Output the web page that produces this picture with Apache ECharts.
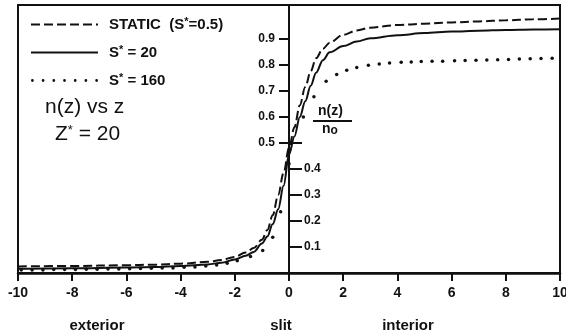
<!DOCTYPE html>
<html>
<head>
<meta charset="utf-8">
<script src="https://cdn.jsdelivr.net/npm/echarts@6/dist/echarts.min.js"></script>
<style>
  html, body { margin: 0; padding: 0; background: #fff; }
  #chart { width: 566px; height: 335px; }
</style>
</head>
<body>
<div id="chart"></div>
<script>
// z positions shared by the two continuous curves
const zValues = [-10, -8, -6, -5, -4, -3, -2.5, -2, -1.6, -1.3, -1, -0.8, -0.6, -0.4, -0.2, 0,
  0.2, 0.4, 0.6, 0.8, 1, 1.25, 1.5, 2, 2.5, 3, 4, 5, 6, 7, 8, 9, 10];
// STATIC (S*=0.5), dashed
const staticValues = [0.025, 0.027, 0.030, 0.032, 0.036, 0.043, 0.050, 0.062, 0.079, 0.096, 0.128, 0.165, 0.222, 0.300, 0.385, 0.480,
  0.560, 0.645, 0.715, 0.775, 0.825, 0.862, 0.885, 0.915, 0.932, 0.943, 0.953, 0.958, 0.963, 0.967, 0.971, 0.975, 0.978];
// S* = 20, solid
const s20Values = [0.016, 0.018, 0.021, 0.023, 0.027, 0.033, 0.039, 0.052, 0.066, 0.081, 0.113, 0.140, 0.188, 0.245, 0.335, 0.455,
  0.525, 0.600, 0.660, 0.720, 0.770, 0.818, 0.848, 0.872, 0.890, 0.902, 0.914, 0.922, 0.928, 0.931, 0.934, 0.936, 0.937];
// S* = 160, dots
const s160Z = [-9.88, -9.48, -9.08, -8.68, -8.28, -7.88, -7.48, -7.08, -6.68, -6.28, -5.88, -5.48, -5.08, -4.68, -4.28,
  -3.87, -3.47, -3.07, -2.67, -2.28, -1.91, -1.42, -0.97, -0.60, -0.31, 0, 0.53, 0.92, 1.37, 1.76, 2.13, 2.50, 2.93,
  3.33, 3.71, 4.14, 4.51, 4.88, 5.28, 5.67, 6.11, 6.50, 6.90, 7.30, 7.70, 8.10, 8.50, 8.90, 9.30, 9.71];
const s160Values = [0.012, 0.012, 0.012, 0.013, 0.013, 0.013, 0.014, 0.014, 0.015, 0.015, 0.016, 0.017, 0.018, 0.019, 0.019,
  0.022, 0.023, 0.027, 0.031, 0.037, 0.047, 0.063, 0.086, 0.137, 0.235, 0.420, 0.600, 0.677, 0.737, 0.763, 0.779, 0.790, 0.798,
  0.803, 0.807, 0.810, 0.811, 0.813, 0.814, 0.814, 0.816, 0.817, 0.818, 0.819, 0.820, 0.821, 0.822, 0.823, 0.824, 0.825];

const seriesNames = ['STATIC  (S*=0.5)', 'S* = 20', 'S* = 160'];
const leftTicks = [0.5, 0.6, 0.7, 0.8, 0.9];
const rightTicks = [0.1, 0.2, 0.3, 0.4, 0.5];
const rightLabels = [0.1, 0.2, 0.3, 0.4];

const zip = (xs, ys) => xs.map((x, i) => [x, ys[i]]);

const FONT = '"Liberation Sans", Arial, sans-serif';
const INK = '#111';

// plot box in pixels; the y axis sits at z = 0, halfway across
const GRID_LEFT = 18, GRID_RIGHT = 6, WIDTH = 566;
const AXIS_SHIFT = -((WIDTH - GRID_LEFT - GRID_RIGHT) / 2);

const chart = echarts.init(document.getElementById('chart'), null, { renderer: 'canvas' });

const yAxisBase = {
  type: 'value',
  min: 0,
  max: 1.03,
  interval: 0.1,
  offset: AXIS_SHIFT,
  splitLine: { show: false },
  axisLine: { show: true, onZero: false, lineStyle: { color: INK, width: 2 } },
  axisLabel: {
    color: INK, fontFamily: FONT, fontWeight: 'bold', fontSize: 12, margin: 14,
    formatter: v => v.toFixed(1)
  }
};

// seven small dots for the S* = 160 legend entry
const dotsIcon = 'path://' + [0, 1, 2, 3, 4, 5, 6]
  .map(x => 'M' + x + ',0.13a0.13,0.13 0 1,0 0.26,0a0.13,0.13 0 1,0 -0.26,0').join('');

const option = {
  animation: false,
  backgroundColor: '#fff',
  grid: {
    show: true, left: GRID_LEFT, right: GRID_RIGHT, top: 5, bottom: 62,
    containLabel: false, outerBoundsMode: 'none',
    borderColor: INK, borderWidth: 2, backgroundColor: 'transparent'
  },
  legend: {
    orient: 'vertical',
    left: 30,
    top: 16,
    padding: 0,
    itemGap: 12,
    itemWidth: 67,
    itemHeight: 14,
    selectedMode: false,
    data: [
      { name: seriesNames[0], itemStyle: { opacity: 0 } },
      { name: seriesNames[1], itemStyle: { opacity: 0 } },
      { name: seriesNames[2], icon: dotsIcon }
    ],
    formatter: name => name.replace('*', '{sup|*}'),
    textStyle: {
      color: INK, fontFamily: FONT, fontWeight: 'bold', fontSize: 15, padding: [0, 0, 0, 6],
      rich: { sup: { fontFamily: FONT, fontWeight: 'bold', fontSize: 11, verticalAlign: 'top', padding: [0, 0, 6, 0] } }
    }
  },
  xAxis: {
    type: 'value',
    min: -10,
    max: 10,
    interval: 2,
    splitLine: { show: false },
    axisLine: { onZero: false, lineStyle: { color: INK, width: 2.5 } },
    axisTick: { show: true, length: 8, lineStyle: { color: INK, width: 2 } },
    axisLabel: {
      color: INK, fontFamily: FONT, fontWeight: 'bold', fontSize: 14, margin: 13,
      showMinLabel: true, showMaxLabel: true
    }
  },
  yAxis: [
    Object.assign({}, yAxisBase, {
      position: 'left',
      axisTick: { show: true, length: 10, customValues: leftTicks, lineStyle: { color: INK, width: 2 } },
      axisLabel: Object.assign({}, yAxisBase.axisLabel, { customValues: leftTicks })
    }),
    Object.assign({}, yAxisBase, {
      position: 'right',
      axisTick: { show: true, length: 13, customValues: rightTicks, lineStyle: { color: INK, width: 2 } },
      axisLabel: Object.assign({}, yAxisBase.axisLabel, { customValues: rightLabels, margin: 15 })
    })
  ],
  series: [
    {
      name: seriesNames[0],
      type: 'line',
      data: zip(zValues, staticValues),
      smooth: 0.35,
      smoothMonotone: 'x',
      symbol: 'none',
      lineStyle: { color: INK, width: 2, type: [9, 4] },
      itemStyle: { color: INK }
    },
    {
      name: seriesNames[1],
      type: 'line',
      data: zip(zValues, s20Values),
      smooth: 0.35,
      smoothMonotone: 'x',
      symbol: 'none',
      lineStyle: { color: INK, width: 2 },
      itemStyle: { color: INK }
    },
    {
      name: seriesNames[2],
      type: 'line',
      data: zip(s160Z, s160Values),
      symbol: 'circle',
      symbolSize: 3.5,
      showSymbol: true,
      lineStyle: { opacity: 0, width: 0 },
      itemStyle: { color: INK, borderWidth: 0 }
    }
  ],
  graphic: [
    { type: 'text', left: 45, top: 97, style: { text: 'n(z) vs z', font: '21px ' + FONT, fill: INK } },
    {
      type: 'text', left: 55, top: 124,
      style: {
        text: 'Z{sup|*} = 20', fontSize: 21, fontFamily: FONT, fill: INK,
        rich: { sup: { fontSize: 13, fontFamily: FONT, fill: INK, verticalAlign: 'top', padding: [0, 0, 8, 0] } }
      }
    },
    { type: 'text', left: 318, top: 104, style: { text: 'n(z)', font: 'bold 14px ' + FONT, fill: INK } },
    { type: 'line', shape: { x1: 313, y1: 121, x2: 352, y2: 121 }, style: { stroke: INK, lineWidth: 2 } },
    {
      type: 'text', left: 322, top: 122,
      style: {
        text: 'n{sub|o}', fontSize: 14, fontWeight: 'bold', fontFamily: FONT, fill: INK,
        rich: { sub: { fontSize: 12, fontWeight: 'bold', fontFamily: FONT, fill: INK, padding: [4, 0, 0, 0] } }
      }
    },
    { type: 'text', x: 97, y: 326, style: { text: 'exterior', font: 'bold 15px ' + FONT, fill: INK, align: 'center', verticalAlign: 'middle' } },
    { type: 'text', x: 281, y: 326, style: { text: 'slit', font: 'bold 15px ' + FONT, fill: INK, align: 'center', verticalAlign: 'middle' } },
    { type: 'text', x: 408, y: 326, style: { text: 'interior', font: 'bold 15px ' + FONT, fill: INK, align: 'center', verticalAlign: 'middle' } }
  ]
};

chart.setOption(option);
</script>
</body>
</html>
